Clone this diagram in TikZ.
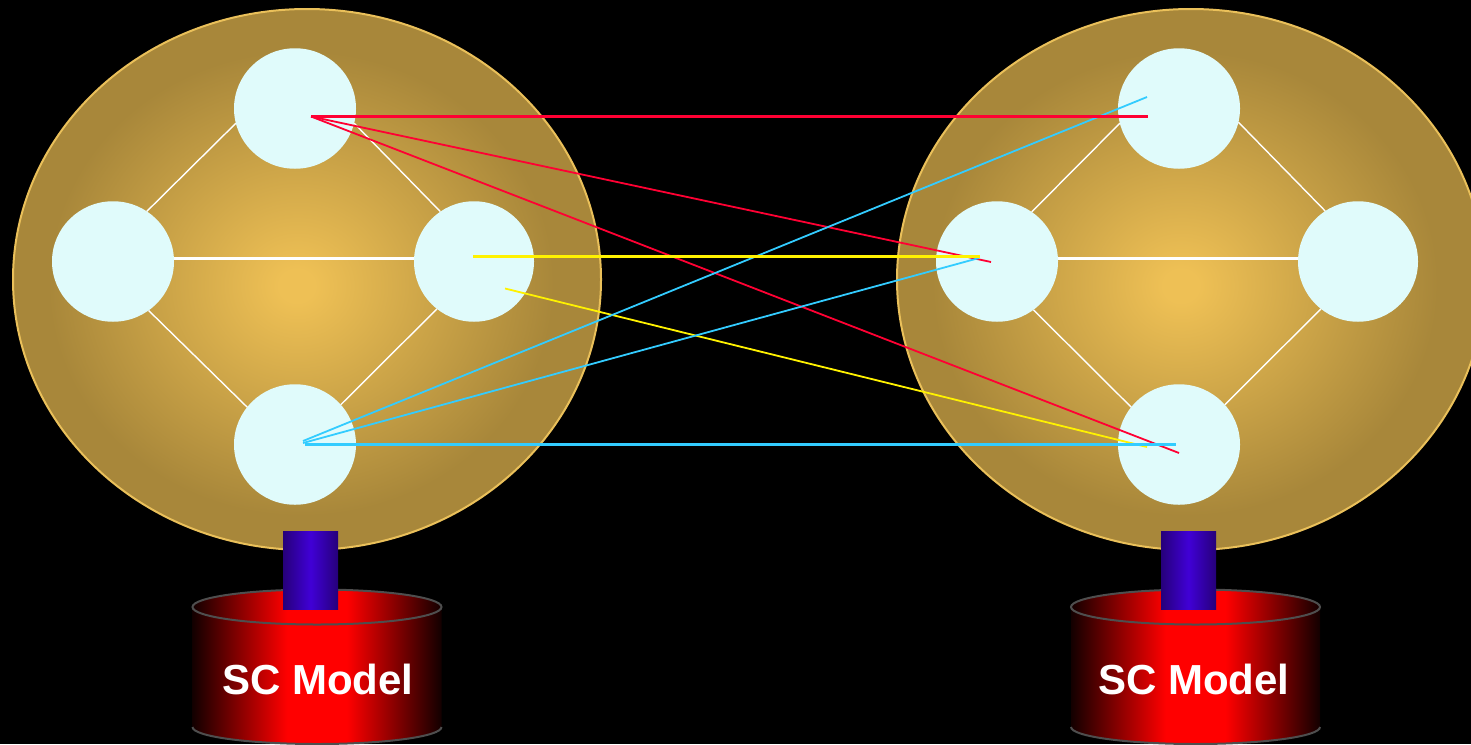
\documentclass[tikz,border=0pt]{standalone}
\usepackage{fontspec}
\setmainfont{Liberation Sans}
\usetikzlibrary{shapes.geometric,calc}
\definecolor{nodefill}{HTML}{E0FBFB}
\definecolor{rimgold}{HTML}{EAC05A}
\definecolor{redline}{HTML}{FF0033}
\definecolor{cyanline}{HTML}{33CCFF}
\definecolor{cylrim}{HTML}{4E4E4E}
\definecolor{ballin}{HTML}{EEC055}
\definecolor{ballout}{HTML}{A8873A}
\definecolor{stemedge}{HTML}{26007A}
\definecolor{stemmid}{HTML}{4000D6}
\pgfdeclareradialshading{ballshade}{\pgfpoint{-0.9bp}{-0.6bp}}{color(0bp)=(ballin);color(1.5bp)=(ballin);color(21.5bp)=(ballout);color(50bp)=(ballout)}
\pgfdeclarehorizontalshading{cylshade}{100bp}{color(0bp)=(black);color(23.5bp)=(black);color(44bp)=(red);color(56bp)=(red);color(76.5bp)=(black);color(100bp)=(black)}
\pgfdeclarehorizontalshading{stemshade}{100bp}{color(0bp)=(stemedge);color(25bp)=(stemedge);color(50bp)=(stemmid);color(75bp)=(stemedge);color(100bp)=(stemedge)}
\tikzset{
  ball/.style={ellipse,inner sep=0pt,outer sep=0pt,minimum width=588pt,minimum height=541pt,shading=ballshade,draw=rimgold,line width=2pt},
  peer/.style={ellipse,inner sep=0pt,outer sep=0pt,fill=nodefill,minimum width=122pt,minimum height=120.5pt},
  cyltop/.style={ellipse,inner sep=0pt,outer sep=0pt,minimum width=249pt,minimum height=35pt,shading=cylshade,draw=cylrim,line width=2pt},
  stem/.style={rectangle,inner sep=0pt,outer sep=0pt,minimum width=55pt,minimum height=78.5pt,shading=stemshade},
  cyllabel/.style={text=white,font=\fontsize{42}{48}\selectfont\bfseries,inner sep=0pt},
  link/.style={draw=white,line width=1.4pt},
  mainlink/.style={draw=white,line width=2.8pt},
  redthin/.style={draw=redline,line width=1.8pt},
  redthick/.style={draw=redline,line width=3pt},
  yelthin/.style={draw=yellow,line width=1.8pt},
  yelthick/.style={draw=yellow,line width=3pt},
  cyanthin/.style={draw=cyanline,line width=1.8pt},
  cyanthick/.style={draw=cyanline,line width=3pt},
}
\begin{document}
\begin{tikzpicture}[x=1pt,y=-1pt]
\useasboundingbox (0,0) rectangle (1471,744);
\clip (0,0) rectangle (1471,744);
\fill[black] (0,0) rectangle (1471,744);
% cylinders
\foreach \cx/\nm in {317/a,1195.5/b}{
  \path[shading=cylshade] (\cx-124.5,607) -- (\cx-124.5,727) arc[start angle=180,end angle=0,x radius=124.5,y radius=17] -- (\cx+124.5,607) -- cycle;
  \draw[cylrim,line width=2pt] (\cx-124.5,727) arc[start angle=180,end angle=0,x radius=124.5,y radius=17];
}
% gold spheres
\node[ball] (ballL) at (307,279.5) {};
\node[ball] (ballR) at (1191,279.5) {};
% cylinder tops, stems, labels
\node[cyltop] (cylTopL) at (317,607) {};
\node[cyltop] (cylTopR) at (1195.5,607) {};
\node[stem] (stemL) at (310.5,570.25) {};
\node[stem] (stemR) at (1188.5,570.25) {};
\node[cyllabel] (labelL) at (318,679) {SC Model};
\node[cyllabel] (labelR) at (1194,679) {SC Model};
% peers
\node[peer] (lt) at (295,108.5) {};
\node[peer] (ll) at (113,261.5) {};
\node[peer,minimum width=120pt] (lr) at (474,261.5) {};
\node[peer] (lb) at (295,444.5) {};
\node[peer] (rt) at (1179,108.5) {};
\node[peer] (rl) at (997,261.5) {};
\node[peer,minimum width=120pt] (rr) at (1358,261.5) {};
\node[peer] (rb) at (1179,444.5) {};
% internal links
\draw[link] (lt.194.3) -- (ll.56.3);
\draw[link] (lt.-14.3) -- (lr.124.5);
\draw[link] (ll.-54.2) -- (lb.142.2);
\draw[link] (lr.232.3) -- (lb.41.3);
\draw[mainlink] ($(ll.east)+(0,-3.3)$) -- ($(lr.west)+(0,-3.3)$);
\draw[link] (rt.194.3) -- (rl.55.5);
\draw[link] (rt.-13.8) -- (rr.123.7);
\draw[link] (rl.-53.4) -- (rb.142.2);
\draw[link] (rr.232.3) -- (rb.41.3);
\draw[mainlink] ($(rl.east)+(0,-3.3)$) -- ($(rr.west)+(0,-3.3)$);
% cross-link end points
\coordinate (r0) at (311,116.5);
\coordinate (r1) at (1148,116.5);
\coordinate (r2) at (991,262);
\coordinate (r3) at (1179,453);
\coordinate (y0) at (473,256.5);
\coordinate (y1) at (980,256.5);
\coordinate (y2) at (505,288.5);
\coordinate (y3) at (1147,447);
\coordinate (c0) at (303,441);
\coordinate (c1) at (1147,97);
\coordinate (c2) at (303,443);
\coordinate (c3) at (979,258);
\coordinate (c4) at (305,444.5);
\coordinate (c5) at (1176,444.5);
% cross links
\draw[redthin] (r0) -- (r2);
\draw[redthin] (r0) -- (r3);
\draw[yelthin] (y2) -- (y3);
\draw[cyanthin] (c0) -- (c1);
\draw[cyanthin] (c2) -- (c3);
\draw[cyanthick] (c4) -- (c5);
\draw[yelthick] (y0) -- (y1);
\draw[redthick] (r0) -- (r1);
\end{tikzpicture}
\end{document}
